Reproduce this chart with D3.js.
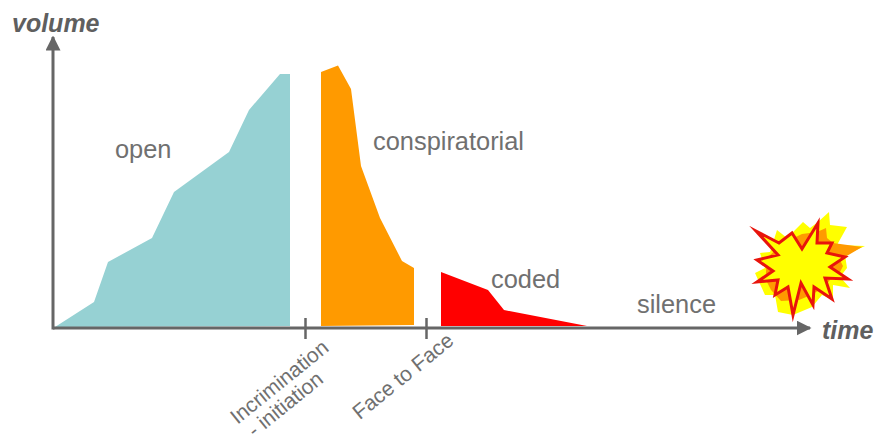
<!DOCTYPE html>
<html>

<head>
    <title>Volume over time</title>
    <script src="https://d3js.org/d3.v7.min.js"></script>

    <style>
        body {
            margin: 0;
            background: white;
        }

        text {
            font-family: "Liberation Sans", Arial, sans-serif;
            fill: #707070;
        }

        .axis-title {
            font-size: 25px;
            font-weight: bold;
            font-style: italic;
            fill: #5f5f5f;
        }

        .area-label {
            font-size: 25.4px;
        }

        .tick-label {
            font-size: 21px;
        }
    </style>
</head>

<body>
    <svg id="chart" height="442" width="877"></svg>

    <script>
        // values are [time, volume]
        const openSeries = [[2, 1], [41, 26], [55, 66], [99, 90], [121, 136], [176, 176], [196, 218], [227, 254], [237, 254], [237, 2]];
        const conspiratorialSeries = [[268, 256], [285, 262.5], [298, 239], [308, 162], [327, 110], [349, 67], [361, 60], [361, 3], [268, 2]];
        const codedSeries = [[388, 56], [435, 38], [451, 18], [534, 2], [388, 2]];

        const areaNames = ["open", "conspiratorial", "coded", "silence"];
        const areaLabelX = [62, 320, 438, 584];
        const areaLabelY = [170, 178, 40, 15];

        const tickTimes = [252, 373];
        const tickLabels = [["Incrimination", "- initiation"], ["Face to Face"]];

        // explosion, same units
        const burstBack = [[776, 116], [777, 103], [794, 101], [784, 83], [812, 82], [792, 73], [794, 60], [787, 51], [797, 40], [780, 43], [780, 28], [769, 33], [759, 21], [740, 13], [725, 16], [722, 33], [712, 33], [702, 55], [712, 60], [707, 75], [717, 76], [724, 98], [734, 90], [739, 95], [750, 106], [757, 100], [765, 106]];
        const burstMiddle = [[773, 100], [774, 90], [780, 85], [809, 81], [787, 68], [790, 62], [784, 50], [777, 48], [770, 40], [758, 33], [746, 28], [728, 27], [718, 38], [714, 46], [713, 56], [714, 70], [730, 85], [749, 94], [764, 96]];
        const burstFront = [[703, 97], [726, 85], [739, 95], [749, 79], [765, 105], [764, 85], [779, 85], [774, 75], [792, 71], [777, 61], [795, 49], [772, 50], [779, 29], [761, 41], [760, 23], [748, 45], [740, 13], [735, 41], [722, 33], [725, 48], [704, 46], [720, 57], [704, 68], [725, 73]];

        const svg = d3.select("#chart");
        const axisColor = "#666";

        const x = d3.scaleLinear().domain([0, 757]).range([53, 810]);
        const y = d3.scaleLinear().domain([0, 291]).range([328, 37]);

        const lineGen = d3.line()
            .x(d => x(d[0]))
            .y(d => y(d[1]))
            .curve(d3.curveLinearClosed);

        const addShape = (data, fill, stroke) => svg.append("path")
            .attr("d", lineGen(data))
            .attr("fill", fill)
            .attr("stroke", stroke || "none")
            .attr("stroke-width", stroke ? 3 : 0)
            .attr("stroke-linejoin", "miter")
            .attr("stroke-miterlimit", 8);

        addShape(openSeries, "#96d1d3");
        addShape(conspiratorialSeries, "#ff9a00");
        addShape(codedSeries, "#ff0000");

        addShape(burstBack, "#ffff00");
        addShape(burstMiddle, "#ff9a00");
        addShape(burstFront, "#ffff00", "#e8140c");

        // arrow heads
        svg.append("defs").append("marker")
            .attr("id", "arrow")
            .attr("viewBox", "0 0 10 10")
            .attr("refX", 9)
            .attr("refY", 5)
            .attr("markerUnits", "userSpaceOnUse")
            .attr("markerWidth", 15)
            .attr("markerHeight", 15)
            .attr("orient", "auto")
            .append("path")
            .attr("d", "M0,0 L10,5 L0,10 Z")
            .attr("fill", axisColor);

        const bottomAxis = d3.axisBottom(x)
            .tickValues(tickTimes)
            .tickFormat("")
            .tickSizeInner(11)
            .tickSizeOuter(0);

        const axisG = svg.append("g")
            .attr("transform", `translate(0,${y(0)})`)
            .call(bottomAxis);

        axisG.select(".domain").remove();
        axisG.selectAll(".tick line")
            .attr("y1", -10)
            .attr("stroke", axisColor)
            .attr("stroke-width", 2.5);

        svg.append("line")
            .attr("x1", x(0)).attr("x2", x(757))
            .attr("y1", y(0)).attr("y2", y(0))
            .attr("stroke", axisColor)
            .attr("stroke-width", 3)
            .attr("marker-end", "url(#arrow)");

        svg.append("line")
            .attr("x1", x(0)).attr("x2", x(0))
            .attr("y1", y(0) + 1.5).attr("y2", y(291))
            .attr("stroke", axisColor)
            .attr("stroke-width", 3)
            .attr("marker-end", "url(#arrow)");

        svg.append("text").attr("class", "axis-title")
            .attr("x", 12).attr("y", 32).text("volume");
        svg.append("text").attr("class", "axis-title")
            .attr("x", 822).attr("y", 339).text("time");

        svg.selectAll("text.area-label").data(areaNames)
            .join("text")
            .attr("class", "area-label")
            .attr("x", (d, i) => x(areaLabelX[i]))
            .attr("y", (d, i) => y(areaLabelY[i]))
            .text(d => d);

        const labels = svg.selectAll("text.tick-label").data(tickLabels)
            .join("text")
            .attr("class", "tick-label")
            .attr("text-anchor", "end")
            .attr("transform", (d, i) => `translate(${x(tickTimes[i]) + 25 + i * 4},${y(0) + 22 + i * -7}) rotate(-39)`);

        // second line sits back along the slope
        labels.selectAll("tspan").data(d => d)
            .join("tspan")
            .attr("x", (d, i) => i ? -24 : 0)
            .attr("dy", (d, i) => i ? 21 : 0)
            .text(d => d);
    </script>

</body>

</html>
